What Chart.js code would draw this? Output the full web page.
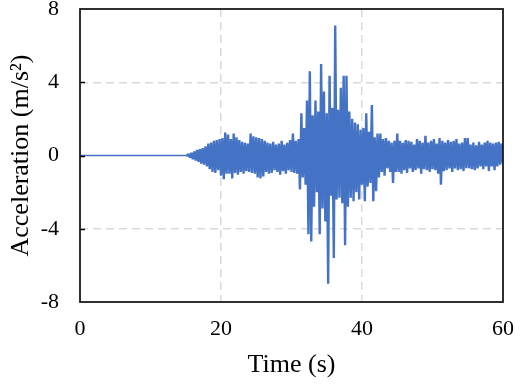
<!DOCTYPE html>
<html>
<head>
<meta charset="utf-8">
<script src="https://cdn.jsdelivr.net/npm/chart.js@4/dist/chart.umd.min.js"></script>
<style>
  html, body { margin: 0; padding: 0; background: #ffffff; }
  #wrap { width: 531px; height: 387px; position: relative; }
</style>
</head>
<body>
<div id="wrap"><canvas id="c" width="531" height="387"></canvas></div>
<script>
// ---- Data ----
const xTicks = [0, 20, 40, 60];
const yTicks = [-8, -4, 0, 4, 8];
const quietStart = 0;          // record starts at 0 s with no motion
const sampleStart = 15.0;      // first sample of the listed series (s)
const sampleStep = 0.2;        // sampling step of the listed series (s)

// accelerations (m/s^2), one row per second, 5 samples per row, 15 s ... 60 s
const accel15to29 = [
   0.00, -0.00,  0.08, -0.12,  0.15,
  -0.20,  0.22, -0.28,  0.30, -0.35,
   0.35, -0.45,  0.40, -0.50,  0.50,
  -0.60,  0.65, -0.75,  0.70, -0.90,
   0.80, -0.95,  0.85, -0.80,  0.90,
  -1.10,  0.95, -1.30,  1.25, -1.00,
   1.15, -1.00,  0.90, -1.25,  1.20,
  -0.95,  1.00, -1.05,  0.85, -0.90,
   0.75, -1.00,  0.70, -0.85,  0.65,
  -0.90,  1.20, -0.95,  1.05, -1.00,
   1.00, -1.20,  0.95, -1.25,  0.90,
  -1.15,  0.80, -0.90,  0.70, -1.00,
   0.65, -0.95,  0.75, -0.80,  0.60,
  -0.90,  0.65, -1.05,  0.80, -0.85,
   0.60, -1.00,  0.70, -0.80,  0.85
];
const accel30to44 = [
  -0.90,  1.20, -0.95,  0.80, -1.00,
   0.90, -1.85,  2.30, -1.20,  1.50,
  -1.60,  3.00, -4.30,  4.60, -4.70,
   2.20, -2.80,  3.00, -2.00,  2.40,
  -4.30,  5.00, -2.90,  3.50, -3.60,
   2.30, -7.00,  4.35, -2.20,  2.60,
  -5.60,  7.10, -2.40,  2.50, -2.30,
   3.70, -2.60,  4.35, -4.90,  4.35,
  -2.80,  2.40, -2.30,  2.00, -2.50,
   1.80, -2.00,  1.70, -2.40,  1.40,
  -1.60,  1.50, -2.50,  2.30, -1.70,
   1.30, -1.50,  2.75, -2.50,  1.00,
  -1.95,  1.20, -1.20,  1.20, -0.90,
   0.90, -1.10,  0.95, -0.70,  0.80,
  -0.90,  0.70, -1.50,  0.80, -0.90
];
const accel45to60 = [
   1.20, -0.90,  0.80, -1.00,  0.70,
  -0.80,  0.85, -0.95,  0.80, -0.70,
   0.75, -0.90,  0.60, -0.80,  0.90,
  -0.70,  0.80, -1.00,  0.70, -0.75,
   1.07, -0.80,  0.70, -0.90,  0.80,
  -0.75,  0.90, -0.80,  0.65, -1.00,
   0.95, -1.60,  0.80, -0.85,  0.70,
  -0.80,  0.85, -0.70,  0.75, -0.90,
   0.80, -0.70,  0.90, -0.80,  0.65,
  -0.75,  0.70, -0.85,  0.95, -0.70,
   0.95, -0.70,  0.60, -0.75,  0.70,
  -0.80,  0.55, -0.70,  0.75, -0.60,
   0.60, -0.75,  0.70, -0.60,  0.80,
  -0.85,  0.70, -0.60,  0.65, -0.80,
   0.70, -0.60,  0.75, -0.50,  0.65,
  -0.40
];

// ---- Build the point table for the library ----
const accel = [].concat(accel15to29, accel30to44, accel45to60);
const points = [{ x: quietStart, y: 0 }];
accel.forEach((v, i) => {
  points.push({ x: +(sampleStart + i * sampleStep).toFixed(2), y: v });
});

const serif = "'Liberation Serif', 'Times New Roman', serif";

const framePlugin = {
  id: 'frame',
  afterDraw(chart) {
    const { ctx, chartArea: a, scales } = chart;
    ctx.save();
    ctx.strokeStyle = '#000';
    ctx.lineWidth = 1.5;
    [-4, 0, 4].forEach(v => {
      const y = Math.round(scales.y.getPixelForValue(v)) + 0.5;
      ctx.beginPath();
      ctx.moveTo(a.left, y);
      ctx.lineTo(a.left + 5, y);
      ctx.stroke();
    });
    ctx.lineWidth = 1.8;
    ctx.strokeStyle = '#1a1a1a';
    ctx.strokeRect(a.left, a.top, a.right - a.left, a.bottom - a.top);
    ctx.restore();
  }
};

new Chart(document.getElementById('c'), {
  type: 'line',
  data: {
    datasets: [{
      data: points,
      borderColor: '#4472C4',
      borderWidth: 2.4,
      borderJoinStyle: 'bevel',
      segment: {
        borderWidth: c => (c.p1.parsed.x <= sampleStart + 0.01 ? 1.6 : 2.4)
      },
      pointRadius: 0,
      tension: 0,
      fill: false
    }]
  },
  options: {
    responsive: false,
    animation: false,
    devicePixelRatio: 1,
    layout: { padding: { top: 9, right: 28, bottom: 0, left: 0 } },
    plugins: { legend: { display: false }, tooltip: { enabled: false } },
    scales: {
      x: {
        type: 'linear',
        min: 0, max: 60,
        afterBuildTicks: s => { s.ticks = xTicks.map(v => ({ value: v })); },
        afterFit: s => { s.height = 85; s.paddingLeft = 0; s.paddingRight = 0; },
        ticks: {
          color: '#000',
          font: { family: serif, size: 22 },
          padding: 14,
          maxRotation: 0
        },
        grid: {
          drawTicks: false,
          lineWidth: 1.5,
          color: c => (c.tick && (c.tick.value === 20 || c.tick.value === 40)) ? '#d9d9d9' : 'rgba(0,0,0,0)'
        },
        border: { display: false, dash: [8, 5] },
        title: {
          display: true,
          text: 'Time (s)',
          color: '#000',
          font: { family: serif, size: 26 },
          padding: { top: 0, bottom: 6 }
        }
      },
      y: {
        type: 'linear',
        min: -8, max: 8,
        afterBuildTicks: s => { s.ticks = yTicks.map(v => ({ value: v })); },
        afterFit: s => { s.width = 80; s.paddingTop = 0; s.paddingBottom = 0; },
        ticks: {
          color: '#000',
          font: { family: serif, size: 22 },
          padding: 21
        },
        grid: {
          drawTicks: false,
          lineWidth: 1.5,
          color: c => (c.tick && (c.tick.value === 4 || c.tick.value === -4)) ? '#d9d9d9' : 'rgba(0,0,0,0)'
        },
        border: { display: false, dash: [8, 5] },
        title: {
          display: true,
          text: 'Acceleration (m/s²)',
          color: '#000',
          font: { family: serif, size: 26 },
          padding: { top: 6, bottom: 0 }
        }
      }
    }
  },
  plugins: [framePlugin]
});
</script>
</body>
</html>
